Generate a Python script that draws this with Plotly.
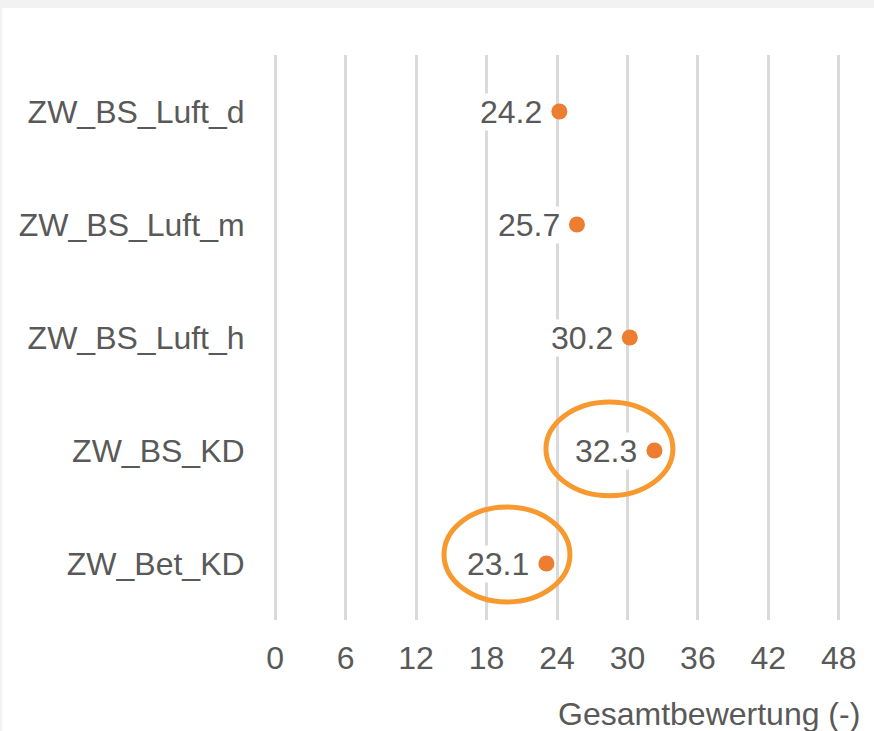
import plotly.graph_objects as go

categories = ["ZW_BS_Luft_d", "ZW_BS_Luft_m", "ZW_BS_Luft_h", "ZW_BS_KD", "ZW_Bet_KD"]
values = [24.2, 25.7, 30.2, 32.3, 23.1]
tick_vals = [0, 6, 12, 18, 24, 30, 36, 42, 48]
axis_title = "Gesamtbewertung (-)"

TXT = "#595959"
FONT = "Liberation Sans, Arial, sans-serif"
FS = 32

fig = go.Figure()
fig.add_trace(go.Scatter(
    x=values, y=categories, mode="markers",
    marker=dict(color="#ED7D31", size=16, line=dict(width=0)),
    hoverinfo="x+y", showlegend=False,
))

annotations = []
for c, v in zip(categories, values):
    annotations.append(dict(
        x=v, y=c, xref="x", yref="y", text=f"{v:.1f}", showarrow=False,
        xanchor="right", yanchor="middle", xshift=-16, yshift=0,
        font=dict(family=FONT, size=FS, color=TXT),
        bgcolor="white", borderpad=0,
    ))
annotations.append(dict(
    x=1.0, y=-0.168, xref="paper", yref="paper", text=axis_title,
    showarrow=False, xanchor="right", yanchor="middle", xshift=22, yshift=1,
    font=dict(family=FONT, size=FS, color=TXT),
))

shapes = [
    # white chart area over the light gray page strip (top and left)
    dict(type="rect", xref="paper", yref="paper", x0=-0.48, x1=1.1,
         y0=-0.25, y1=1.0832, fillcolor="white", line=dict(width=0), layer="below"),
    dict(type="circle", xref="x", yref="y", x0=23.06, x1=33.87, y0=2.57, y1=3.40,
         line=dict(color="#F7992E", width=5), layer="above"),
    dict(type="circle", xref="x", yref="y", x0=14.38, x1=25.1, y0=3.50, y1=4.34,
         line=dict(color="#F7992E", width=5), layer="above"),
]

fig.update_layout(
    width=874, height=731,
    margin=dict(l=274, r=34, t=55, b=111),
    paper_bgcolor="#f2f2f2", plot_bgcolor="rgba(0,0,0,0)",
    font=dict(family=FONT, color=TXT),
    xaxis=dict(range=[-0.1, 48.1], tickvals=tick_vals, ticktext=[str(t) for t in tick_vals],
               showgrid=True, gridcolor="#dadada", gridwidth=2.5,
               zeroline=False, showline=False, ticks="outside", ticklen=10,
               tickcolor="rgba(0,0,0,0)",
               tickfont=dict(family=FONT, size=FS, color=TXT)),
    yaxis=dict(categoryorder="array", categoryarray=categories,
               range=[len(categories) - 0.5, -0.5],
               showgrid=False, zeroline=False, showline=False, ticks="outside",
               ticklen=22, tickcolor="rgba(0,0,0,0)",
               tickfont=dict(family=FONT, size=FS, color=TXT)),
    annotations=annotations, shapes=shapes,
)

fig.write_html("out.html", config={"displayModeBar": False},
               post_script="document.body.style.margin='0';document.body.style.overflow='hidden';document.body.style.background='white';")
